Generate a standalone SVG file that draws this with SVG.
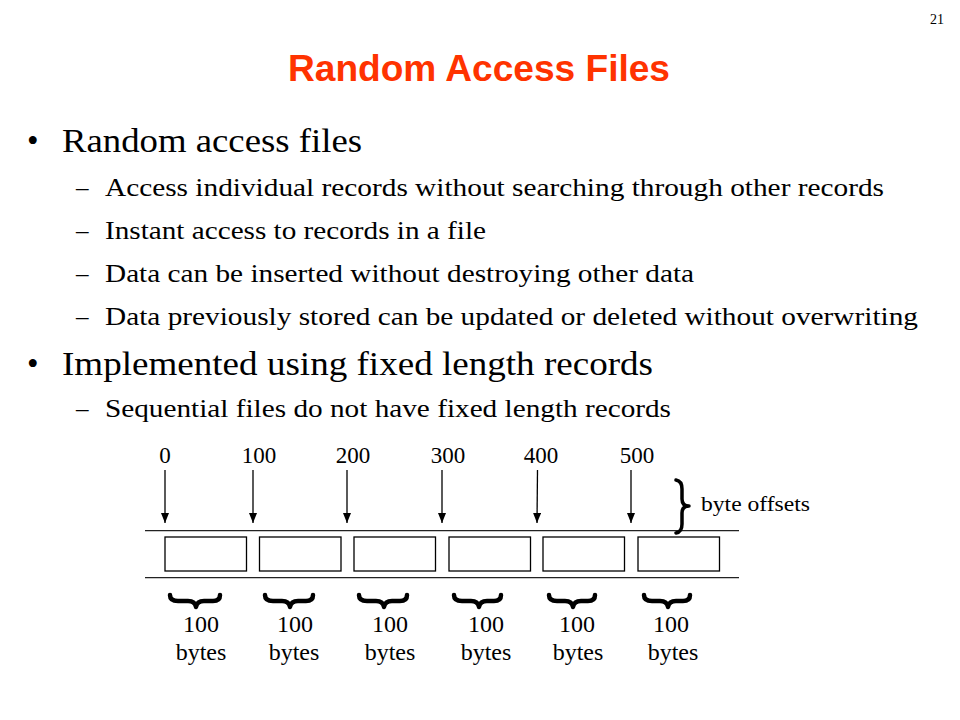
<svg xmlns="http://www.w3.org/2000/svg" width="960" height="720" viewBox="0 0 960 720">
<defs>
<style>
.t{font-family:"Liberation Serif","Times New Roman",serif;fill:#000}
.h1{font-size:33px}
.h2{font-size:25px}
.num{font-size:23px;text-anchor:middle}
.lbl{font-size:24px;text-anchor:middle}
.title{font-family:"Liberation Sans",Arial,sans-serif;font-weight:bold;font-size:36px;fill:#FF3300;text-anchor:middle}
.box{fill:#fff;stroke:#000;stroke-width:1.3}
.rule{stroke:#222;stroke-width:1.3;fill:none}
.arr{stroke:#000;stroke-width:1.3;fill:none}
.brace{stroke:#000;stroke-width:4.5;fill:none;stroke-linecap:round;stroke-linejoin:round}
.brace2{stroke:#000;stroke-width:3.5;fill:none;stroke-linecap:round;stroke-linejoin:round}
</style>
<marker id="ah" markerWidth="10" markerHeight="8" refX="10" refY="4" orient="auto" markerUnits="userSpaceOnUse" viewBox="0 0 10 8">
<path d="M0,0 L10,4 L0,8 Z" fill="#000"/>
</marker>
</defs>
<rect width="960" height="720" fill="#fff"/>

<text class="t" x="930" y="24" font-size="14">21</text>
<text class="title" x="479" y="81" textLength="382" lengthAdjust="spacingAndGlyphs">Random Access Files</text>

<g id="bullets">
<text class="t h1" x="27" y="152">•</text>
<text class="t h1" x="62" y="152" textLength="300" lengthAdjust="spacingAndGlyphs">Random access files</text>
<text class="t h2" x="76" y="196">–</text>
<text class="t h2" x="105" y="196" textLength="779" lengthAdjust="spacingAndGlyphs">Access individual records without searching through other records</text>
<text class="t h2" x="76" y="239">–</text>
<text class="t h2" x="105" y="239" textLength="381" lengthAdjust="spacingAndGlyphs">Instant access to records in a file</text>
<text class="t h2" x="76" y="282">–</text>
<text class="t h2" x="105" y="282" textLength="589" lengthAdjust="spacingAndGlyphs">Data can be inserted without destroying other data</text>
<text class="t h2" x="76" y="325">–</text>
<text class="t h2" x="105" y="325" textLength="813" lengthAdjust="spacingAndGlyphs">Data previously stored can be updated or deleted without overwriting</text>
<text class="t h1" x="27" y="375">•</text>
<text class="t h1" x="62" y="375" textLength="591" lengthAdjust="spacingAndGlyphs">Implemented using fixed length records</text>
<text class="t h2" x="76" y="417">–</text>
<text class="t h2" x="105" y="417" textLength="566" lengthAdjust="spacingAndGlyphs">Sequential files do not have fixed length records</text>
</g>

<g id="offsets">
<text class="t num" x="165" y="463">0</text>
<text class="t num" x="259" y="463">100</text>
<text class="t num" x="353" y="463">200</text>
<text class="t num" x="448" y="463">300</text>
<text class="t num" x="541" y="463">400</text>
<text class="t num" x="637" y="463">500</text>
</g>

<g id="connectors">
<line class="arr" x1="165" y1="470" x2="165" y2="523" marker-end="url(#ah)"/>
<line class="arr" x1="253" y1="470" x2="253" y2="523" marker-end="url(#ah)"/>
<line class="arr" x1="347" y1="470" x2="347" y2="523" marker-end="url(#ah)"/>
<line class="arr" x1="442" y1="470" x2="442" y2="523" marker-end="url(#ah)"/>
<line class="arr" x1="537.5" y1="470" x2="537" y2="523" marker-end="url(#ah)"/>
<line class="arr" x1="631" y1="470" x2="631" y2="523" marker-end="url(#ah)"/>
</g>

<g id="file">
<line class="rule" x1="145" y1="530.7" x2="739" y2="530.7"/>
<line class="rule" x1="145" y1="577.7" x2="739" y2="577.7"/>
</g>

<g id="rec1"><rect class="box" x="165" y="537" width="81.5" height="34"/></g>
<g id="rec2"><rect class="box" x="259.5" y="537" width="81.5" height="34"/></g>
<g id="rec3"><rect class="box" x="354" y="537" width="81.5" height="34"/></g>
<g id="rec4"><rect class="box" x="449" y="537" width="81.5" height="34"/></g>
<g id="rec5"><rect class="box" x="543" y="537" width="81.5" height="34"/></g>
<g id="rec6"><rect class="box" x="638" y="537" width="81.5" height="34"/></g>

<g id="offset-brace">
<path class="brace2" d="M676,480 Q682,481 682,489 L682,499 Q682,506 689,506 Q682,506 682,513 L682,524 Q682,532 676,533"/>
<text class="t" x="701" y="511" font-size="22" textLength="109" lengthAdjust="spacingAndGlyphs">byte offsets</text>
</g>

<g id="sizes">
<path class="brace" d="M170,595 Q170,601 178,601 L188,601 Q195,601 196,607 Q197,601 204,601 L213,601 Q220,601 220,595"/>
<path class="brace" d="M265,595 Q265,601 273,601 L282,601 Q289,601 290,607 Q291,601 298,601 L306,601 Q313,601 313,595"/>
<path class="brace" d="M359,595 Q359,601 367,601 L376,601 Q383,601 384,607 Q385,601 392,601 L400,601 Q407,601 407,595"/>
<path class="brace" d="M454,595 Q454,601 462,601 L471,601 Q478,601 479,607 Q480,601 487,601 L494,601 Q501,601 501,595"/>
<path class="brace" d="M549,595 Q549,601 557,601 L565,601 Q572,601 573,607 Q574,601 581,601 L588,601 Q595,601 595,595"/>
<path class="brace" d="M644,595 Q644,601 652,601 L660,601 Q667,601 668,607 Q669,601 676,601 L683,601 Q690,601 690,595"/>
<text class="t lbl" x="201" y="632">100</text><text class="t lbl" x="201" y="660">bytes</text>
<text class="t lbl" x="295" y="632">100</text><text class="t lbl" x="294" y="660">bytes</text>
<text class="t lbl" x="390" y="632">100</text><text class="t lbl" x="390" y="660">bytes</text>
<text class="t lbl" x="486" y="632">100</text><text class="t lbl" x="486" y="660">bytes</text>
<text class="t lbl" x="577" y="632">100</text><text class="t lbl" x="578" y="660">bytes</text>
<text class="t lbl" x="671" y="632">100</text><text class="t lbl" x="673" y="660">bytes</text>
</g>
</svg>
